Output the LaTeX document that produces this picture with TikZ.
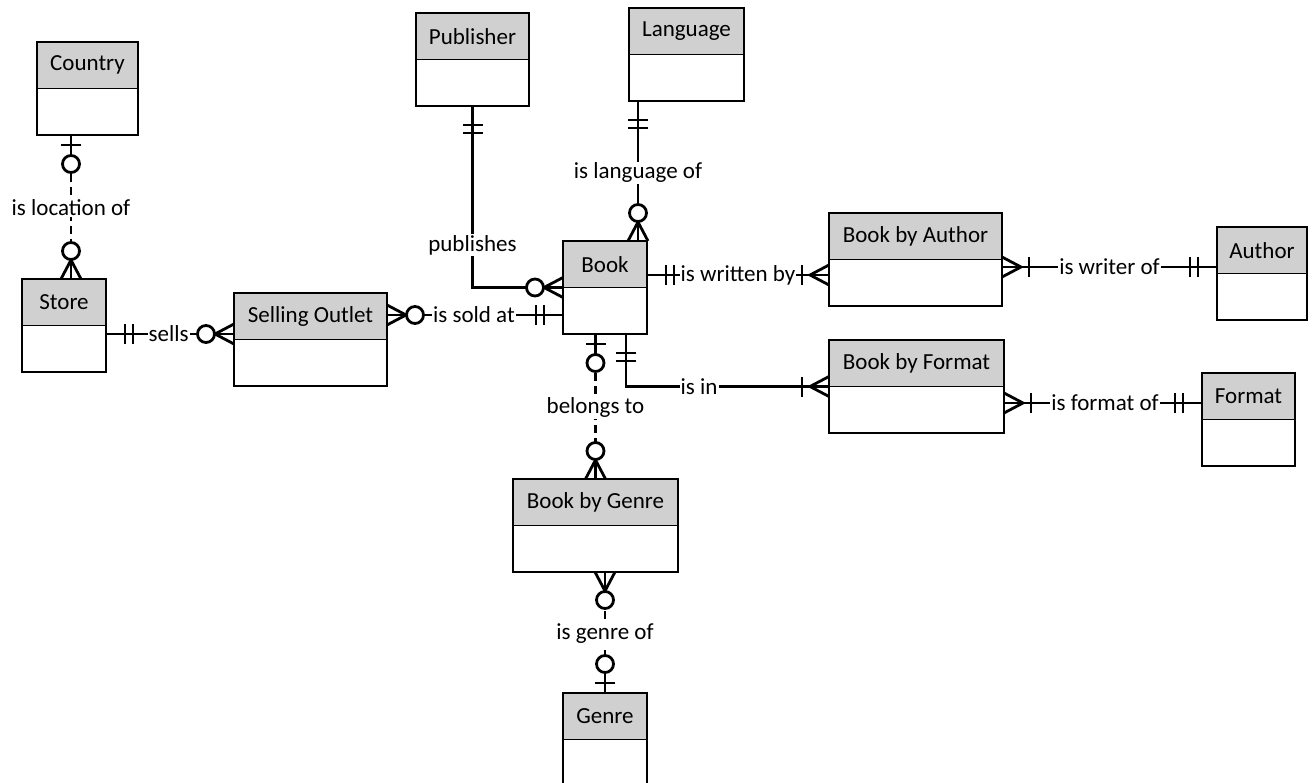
\documentclass[tikz,border=0pt]{standalone}
\usepackage{fontspec}
\setmainfont{Carlito}
\definecolor{hdrgray}{RGB}{208,208,208}
\tikzset{
  ent/.style={draw=black, line width=1.8pt, inner sep=0pt, outer sep=0pt, fill=white},
  hdr/.style={ent, fill=hdrgray, font=\fontsize{23}{28}\selectfont},
  conn/.style={line width=2.8pt},
  dsh/.style={conn, dash pattern=on 8pt off 5pt},
  lbl/.style={fill=white, inner sep=1pt, font=\fontsize{23}{28}\selectfont},
  pics/dbar/.style={code={\draw[conn] (0,0)--(30,0); \draw[conn] (19,-10)--(19,10) (27,-10)--(27,10);}},
  pics/barcirc/.style={code={\draw[conn] (0,0)--(20,0); \draw[conn] (10,-10)--(10,10); \draw[conn,fill=white] (29,0) circle[radius=8.5];}},
  pics/circfoot/.style={code={\draw[conn] (0,0)--(20,0); \draw[conn] (0,-10)--(19,0)--(0,10); \draw[conn,fill=white] (28,0) circle[radius=8.5];}},
  pics/barfoot/.style={code={\draw[conn] (0,0)--(30,0); \draw[conn] (0,-10)--(19,0)--(0,10); \draw[conn] (27,-10)--(27,10);}},
}
\newcommand\erentity[5]{%
  \node[ent, anchor=north west, minimum width=#4pt, minimum height=93pt] (#1) at (#2,#3) {};
  \node[hdr, anchor=north, minimum width=#4pt, minimum height=46.5pt] (#1h) at (#1.north) {#5};
}
\begin{document}
\begin{tikzpicture}[x=1pt,y=-1pt]
\useasboundingbox (0,0) rectangle (1314,783);
\erentity{Country}{37}{42}{101}{Country}
\erentity{Store}{22}{279}{84}{Store}
\erentity{SO}{234}{293}{153}{Selling Outlet}
\erentity{Publisher}{416}{13}{113}{Publisher}
\erentity{Language}{629}{8}{115}{Language}
\erentity{Book}{563}{241}{84}{Book}
\erentity{BbA}{829}{213}{173}{Book by Author}
\erentity{Author}{1217}{227}{90}{Author}
\erentity{BbF}{829}{340}{175}{Book by Format}
\erentity{Format}{1202}{373}{93}{Format}
\erentity{BbG}{513}{479}{165}{Book by Genre}
\erentity{Genre}{563}{693}{84}{Genre}

% Country - Store
\coordinate (c1a) at ([xshift=34pt]Country.south west);
\coordinate (c1b) at (Store.north -| c1a);
\draw[dsh] (c1a) -- node[lbl,pos=0.507] (l1) {is location of} (c1b);
\pic[rotate=-90] at (c1a) {barcirc};
\pic[rotate=90] at (c1b) {circfoot};

% Store - Selling Outlet
\coordinate (c2a) at ([yshift=-8.5pt]Store.east);
\coordinate (c2b) at (SO.west |- c2a);
\draw[conn] (c2a) -- node[lbl,pos=0.49] (l2) {sells} (c2b);
\pic at (c2a) {dbar};
\pic[rotate=180] at (c2b) {circfoot};

% Selling Outlet - Book
\coordinate (c3a) at ([yshift=24.5pt]SO.east);
\coordinate (c3b) at (Book.west |- c3a);
\draw[conn] (c3a) -- node[lbl,pos=0.494] (l3) {is sold at} (c3b);
\pic at (c3a) {circfoot};
\pic[rotate=180] at (c3b) {dbar};

% Publisher - Book
\coordinate (c4) at (Publisher.south |- Book.west);
\draw[conn] (Publisher.south) -- node[lbl,pos=0.766] (l4) {publishes} (c4) -- (Book.west);
\pic[rotate=-90] at (Publisher.south) {dbar};
\pic[rotate=180] at (Book.west) {circfoot};

% Language - Book
\coordinate (c5a) at ([xshift=9pt]Language.south west);
\coordinate (c5b) at (Book.north -| c5a);
\draw[conn] (c5a) -- node[lbl,pos=0.514] (l5) {is language of} (c5b);
\pic[rotate=-90] at (c5a) {dbar};
\pic[rotate=90] at (c5b) {circfoot};

% Book - Book by Author
\coordinate (c6a) at ([yshift=12.5pt]Book.east);
\coordinate (c6b) at (BbA.west |- c6a);
\draw[conn] (c6a) -- node[lbl,pos=0.5] (l6) {is written by} (c6b);
\pic at (c6a) {dbar};
\pic[rotate=180] at (c6b) {barfoot};

% Book by Author - Author
\coordinate (c7a) at ([yshift=-7.5pt]BbA.east);
\coordinate (c7b) at (Author.west |- c7a);
\draw[conn] (c7a) -- node[lbl,pos=0.5] (l7) {is writer of} (c7b);
\pic at (c7a) {barfoot};
\pic[rotate=180] at (c7b) {dbar};

% Book - Book by Format
\coordinate (c8a) at ([xshift=21pt]Book.south);
\coordinate (c8b) at (c8a |- BbF.west);
\draw[conn] (c8a) -- (c8b) -- node[lbl,pos=0.36] (l8) {is in} (BbF.west);
\pic[rotate=-90] at (c8a) {dbar};
\pic[rotate=180] at (BbF.west) {barfoot};

% Book by Format - Format
\coordinate (c9a) at ([yshift=-16.5pt]BbF.east);
\coordinate (c9b) at (Format.west |- c9a);
\draw[conn] (c9a) -- node[lbl,pos=0.51] (l9) {is format of} (c9b);
\pic at (c9a) {barfoot};
\pic[rotate=180] at (c9b) {dbar};

% Book - Book by Genre
\coordinate (c10a) at (Book.south -| BbG.north);
\draw[dsh] (c10a) -- node[lbl,pos=0.51] (l10) {belongs to} (BbG.north);
\pic[rotate=-90] at (c10a) {barcirc};
\pic[rotate=90] at (BbG.north) {circfoot};

% Book by Genre - Genre
\coordinate (c11a) at (BbG.south -| Genre.north);
\draw[dsh] (c11a) -- node[lbl,pos=0.51] (l11) {is genre of} (Genre.north);
\pic[rotate=-90] at (c11a) {circfoot};
\pic[rotate=90] at (Genre.north) {barcirc};
\end{tikzpicture}
\end{document}
